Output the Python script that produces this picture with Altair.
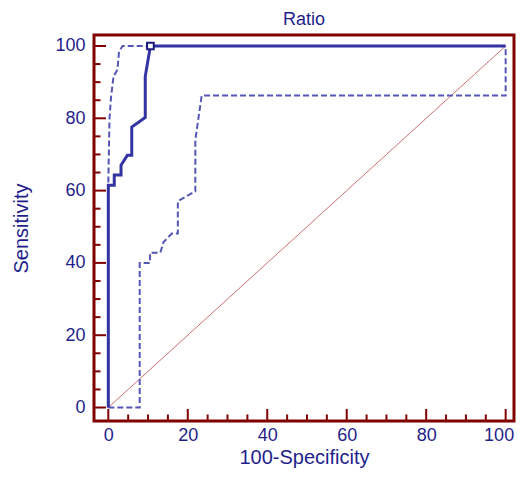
import altair as alt
import pandas as pd

# ROC curve (solid) and its confidence bounds (dashed)
roc_x = [0, 0, 1.5, 1.5, 3.2, 3.2, 4.8, 5.9, 5.9, 9.3, 9.3, 10.6, 100]
roc_y = [0, 61.5, 61.5, 64.3, 64.3, 67.0, 69.8, 69.8, 77.6, 80.2, 91.6, 100, 100]

upper_x = [0, 0, 0.3, 0.7, 1.3, 2.3, 2.7, 3.6, 10.6]
upper_y = [0, 62, 80, 86, 91.5, 93.5, 98.5, 100, 100]

lower_x = [0, 7.9, 7.9, 10.5, 10.5, 13.1, 13.9, 16.0, 17.5, 17.5, 21.9, 21.9, 23.5, 100, 100]
lower_y = [0, 0, 40, 40, 42.8, 42.8, 45.8, 48.1, 48.1, 57.1, 59.8, 74.0, 86.3, 86.3, 100]

diag_x = [0, 100]
diag_y = [0, 100]

marker_x = [10.6]
marker_y = [100]

major_ticks = [0, 20, 40, 60, 80, 100]
minor_ticks = [5, 10, 15, 25, 30, 35, 45, 50, 55, 65, 70, 75, 85, 90, 95]

NAVY = "#1f1f8c"
LINE = "#3333a3"
DASH = "#5656b6"
FRAME = "#800000"
FONT = "Liberation Sans"

W, H = 420, 386
xs = alt.Scale(domain=[-3.6, 102.1], nice=False, zero=False)
ys = alt.Scale(domain=[-3.73, 103.04], nice=False, zero=False)

ax_x = alt.Axis(values=major_ticks, title="100-Specificity", format="d")
ax_y = alt.Axis(values=major_ticks, title="Sensitivity", format="d")


def frame(xv, yv):
    return pd.DataFrame({"x": xv, "y": yv, "i": list(range(len(xv)))})


def enc_xy(ch):
    return ch.encode(
        x=alt.X("x:Q", scale=xs, axis=ax_x),
        y=alt.Y("y:Q", scale=ys, axis=ax_y),
        order="i:Q",
    )


diag = enc_xy(alt.Chart(frame(diag_x, diag_y)).mark_line(color="#cc7070", strokeWidth=1))
lower = enc_xy(alt.Chart(frame(lower_x, lower_y)).mark_line(color=DASH, strokeWidth=2, strokeDash=[6, 3]))
upper = enc_xy(alt.Chart(frame(upper_x, upper_y)).mark_line(color=DASH, strokeWidth=2, strokeDash=[6, 3]))
main = enc_xy(alt.Chart(frame(roc_x, roc_y)).mark_line(color=LINE, strokeWidth=3))
marker = alt.Chart(pd.DataFrame({"x": marker_x, "y": marker_y})).mark_square(
    filled=True, fill="white", stroke="#1a1a80", strokeWidth=2, size=45, opacity=1
).encode(
    x=alt.X("x:Q", scale=xs, axis=ax_x),
    y=alt.Y("y:Q", scale=ys, axis=ax_y),
)


def xticks(vals, length):
    return alt.Chart(pd.DataFrame({"x": vals})).mark_tick(
        color=FRAME, thickness=2, size=length, orient="vertical", opacity=1
    ).encode(
        x=alt.X("x:Q", scale=xs, axis=ax_x),
        y=alt.value(H - length / 2),
    )


def yticks(vals, length):
    return alt.Chart(pd.DataFrame({"y": vals})).mark_tick(
        color=FRAME, thickness=2, size=length, orient="horizontal", opacity=1
    ).encode(
        y=alt.Y("y:Q", scale=ys, axis=ax_y),
        x=alt.value(length / 2),
    )


chart = alt.layer(
    diag, lower, upper, main, marker,
    xticks(major_ticks, 12), xticks(minor_ticks, 6.5),
    yticks(major_ticks, 12), yticks(minor_ticks, 6.5),
).properties(
    width=W,
    height=H,
    autosize=alt.AutoSizeParams(type="none"),
    padding={"left": 86, "top": 27, "right": 2, "bottom": 50},
    title=alt.TitleParams(
        "Ratio", fontSize=18, font=FONT, color=NAVY, fontWeight="normal",
        anchor="middle", offset=6,
    ),
).configure_view(
    stroke=FRAME, strokeWidth=3
).configure_axis(
    grid=False, domain=False, ticks=False, tickSize=0,
    labelFont=FONT, labelFontSize=18, labelColor=NAVY,
    titleFont=FONT, titleFontSize=20, titleColor=NAVY, titleFontWeight="normal",
).configure_axisX(
    labelPadding=5, titleBaseline="alphabetic", titleY=42,
    labelFlush=10, labelFlushOffset=8,
).configure_axisY(
    labelPadding=9, titleBaseline="alphabetic", titleX=-67,
)

chart.save("out.html", embed_options={"renderer": "svg", "actions": False})
